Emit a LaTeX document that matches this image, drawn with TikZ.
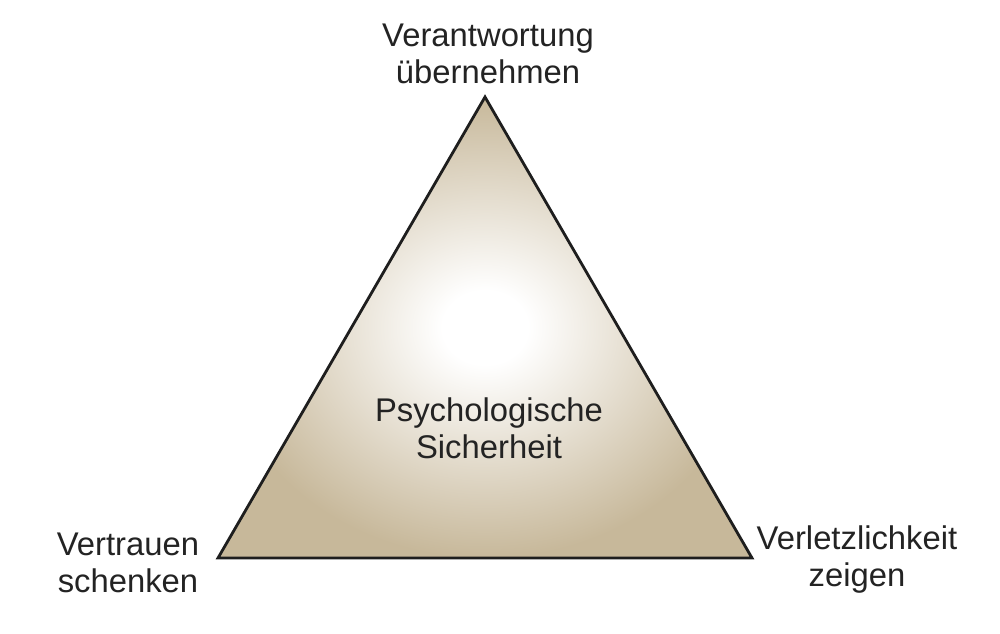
\documentclass[tikz,border=0pt]{standalone}
\usepackage{fontspec}
\setmainfont{Liberation Sans}
\definecolor{tan}{RGB}{199,184,154}
\definecolor{edge}{RGB}{30,30,30}
\definecolor{txt}{RGB}{35,35,35}
\pgfdeclareradialshading{tri}{\pgfpoint{0bp}{0bp}}{color(0bp)=(white); color(4bp)=(white); color(25bp)=(tan); color(50bp)=(tan)}
\begin{document}
\begin{tikzpicture}[x=1pt,y=-1pt,
  lbl/.style={font=\fontsize{32.8}{37}\selectfont, text=txt, align=center, inner sep=0pt}]
\useasboundingbox (0,0) rectangle (1000,633);
\coordinate (T) at (485,97);
\coordinate (L) at (218,558);
\coordinate (R) at (752,558);
\shade[shading=tri, draw=edge, line width=2.8pt, line join=miter] (T) -- (R) -- (L) -- cycle;
\node[lbl] (top) at (488,54) {Verantwortung\\übernehmen};
\node[lbl] (mid) at (489,428) {Psychologische\\Sicherheit};
\node[lbl] (left) at (128,563) {Vertrauen\\schenken};
\node[lbl] (right) at (857,560) {Verletzlichkeit\\zeigen};
\end{tikzpicture}
\end{document}
